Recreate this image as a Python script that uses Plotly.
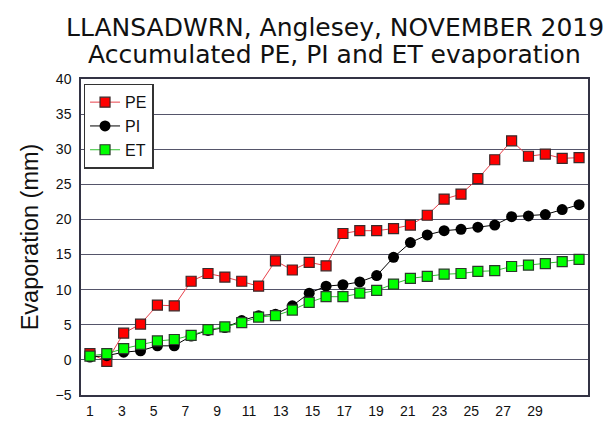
import plotly.graph_objects as go

days = list(range(1, 31))
pe = [0.9, -0.2, 3.8, 5.1, 7.8, 7.7, 11.2, 12.3, 11.8, 11.2, 10.5, 14.1, 12.8, 13.9, 13.4,
      18.0, 18.4, 18.4, 18.7, 19.2, 20.6, 22.9, 23.6, 25.8, 28.5, 31.2, 29.0, 29.3, 28.7, 28.8]
pi = [0.4, 0.6, 1.1, 1.3, 2.0, 2.0, 3.4, 4.2, 4.6, 5.6, 6.3, 6.5, 7.7, 9.5, 10.5,
      10.7, 11.1, 12.0, 14.6, 16.7, 17.8, 18.4, 18.6, 18.9, 19.2, 20.4, 20.5, 20.7, 21.4, 22.1]
et = [0.55, 0.9, 1.6, 2.2, 2.7, 2.9, 3.5, 4.3, 4.7, 5.3, 6.1, 6.3, 7.1, 8.2, 9.0,
      9.0, 9.5, 9.9, 10.8, 11.6, 11.9, 12.2, 12.3, 12.6, 12.7, 13.3, 13.5, 13.7, 14.0, 14.3]
tick_vals = list(range(1, 30, 2))
tick_labels = [str(v) for v in tick_vals]
title_lines = ["LLANSADWRN, Anglesey, NOVEMBER 2019", "Accumulated PE, PI and ET evaporation"]

font_main = "Liberation Sans, Arial, sans-serif"
font_title = "DejaVu Sans, Verdana, sans-serif"

fig = go.Figure()
fig.add_trace(go.Scatter(
    x=days, y=pe, name="PE", mode="lines+markers",
    line=dict(color="#e8404a", width=1),
    marker=dict(symbol="square", size=10, color="#ff0000", line=dict(color="#3a2a2a", width=1.2)),
))
fig.add_trace(go.Scatter(
    x=days, y=pi, name="PI", mode="lines+markers",
    line=dict(color="#000000", width=1),
    marker=dict(symbol="circle", size=11, color="#000000", line=dict(color="#000000", width=0)),
))
fig.add_trace(go.Scatter(
    x=days, y=et, name="ET", mode="lines+markers",
    line=dict(color="#30c030", width=1),
    marker=dict(symbol="square", size=10, color="#00ff00", line=dict(color="#2a3a2a", width=1.2)),
))
# helper trace to carry the label axis
fig.add_trace(go.Scatter(x=[tick_vals[0]], y=[None], xaxis="x2", showlegend=False,
                         hoverinfo="skip", mode="markers"))

for txt, yy in zip(title_lines, [1.162, 1.079]):
    fig.add_annotation(text=txt, xref="paper", yref="paper", x=0.5, y=yy,
                       xanchor="center", yanchor="middle", showarrow=False,
                       font=dict(family=font_title, size=25, color="#111111"))

fig.update_layout(
    width=603, height=416,
    margin=dict(l=73, r=23, t=71, b=29, autoexpand=False),
    paper_bgcolor="white", plot_bgcolor="white",
    xaxis=dict(
        range=[0.47, 30.53], showticklabels=False, ticks="", showgrid=False, zeroline=False,
        showline=True, linecolor="#333344", linewidth=1.5, mirror=True, automargin=False,
    ),
    xaxis2=dict(
        overlaying="x", side="bottom", range=[0.434, 32.34],
        tickmode="array", tickvals=tick_vals, ticktext=tick_labels,
        showgrid=False, zeroline=False, showline=False, ticks="", ticklabelstandoff=6,
        tickfont=dict(family=font_main, size=14, color="#111111"), automargin=False,
    ),
    yaxis=dict(
        range=[-5, 40], dtick=5, tick0=0, showgrid=True, gridcolor="#55556a", gridwidth=1.3,
        zeroline=False, showline=True, linecolor="#333344", linewidth=1.5, mirror=True,
        ticks="", ticklabelstandoff=5, automargin=False,
        tickfont=dict(family=font_main, size=14, color="#111111"),
        title=dict(text="Evaporation (mm)", font=dict(family=font_main, size=23.5, color="#111111"),
                   standoff=10),
    ),
    legend=dict(
        x=0.005, y=0.985, xanchor="left", yanchor="top",
        bgcolor="white", bordercolor="#333333", borderwidth=1.5,
        font=dict(family=font_main, size=16, color="#111111"),
        itemwidth=30, tracegroupgap=0,
    ),
    showlegend=True,
)

fig.write_html("out.html")
